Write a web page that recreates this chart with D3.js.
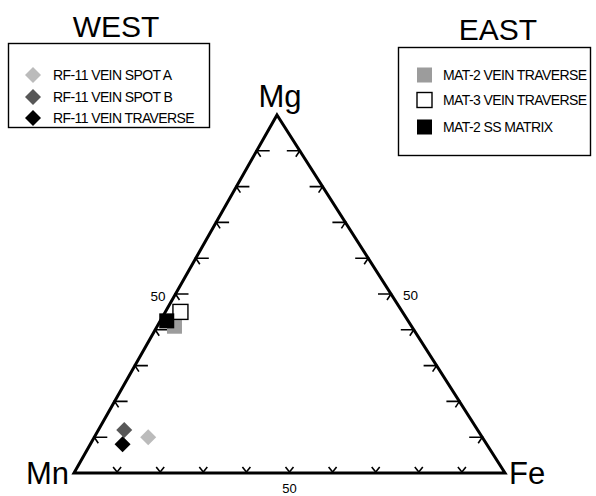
<!DOCTYPE html>
<html>
<head>
<meta charset="utf-8">
<script src="https://cdn.jsdelivr.net/npm/d3@7"></script>
<style>
  html, body { margin: 0; padding: 0; background: #fff; }
  svg { display: block; }
  text { font-family: "Liberation Sans", Arial, sans-serif; fill: #000; }
</style>
</head>
<body>
<svg id="chart" width="596" height="496"></svg>
<script>
// Ternary composition (mol %) of Mg, Fe and Mn
const cornerLabels = ["Mg", "Mn", "Fe"];
const tickValues = [10, 20, 30, 40, 50, 60, 70, 80, 90];
const tickLabelValue = 50;

// West samples (diamonds)
const westNames = ["RF-11 VEIN SPOT A", "RF-11 VEIN SPOT B", "RF-11 VEIN TRAVERSE"];
const westMg = [10, 12, 8];
const westFe = [12.5, 6, 7.5];
const westMn = [77.5, 82, 84.5];

// East samples (squares)
const eastNames = ["MAT-2 VEIN TRAVERSE", "MAT-3 VEIN TRAVERSE", "MAT-2 SS MATRIX"];
const eastMg = [41, 45, 42.5];
const eastFe = [4, 3.5, 1.5];
const eastMn = [55, 51.5, 56];

const westFill = ["#bbbbbb", "#575757", "#000000"];
const eastFill = ["#9c9c9c", "#ffffff", "#000000"];

const svg = d3.select("#chart");

// Base runs Mn (0) -> Fe (100); vertical runs Mg 0 -> 100
const xScale = d3.scaleLinear().domain([0, 100]).range([74, 505]);
const yScale = d3.scaleLinear().domain([0, 100]).range([473, 115]);
const apexShare = 47.1; // where the Mg apex sits along the base, in base %

function project(mg, fe) {
  return [xScale(fe + mg * apexShare / 100), yScale(mg)];
}

// Triangle outline
const pMg = project(100, 0), pMn = project(0, 0), pFe = project(0, 100);
svg.append("path")
  .attr("d", d3.line()([pMg, pFe, pMn]) + "Z")
  .attr("fill", "none")
  .attr("stroke", "#000")
  .attr("stroke-width", 3)
  .attr("stroke-linejoin", "miter");

const tickG = svg.append("g")
  .attr("fill", "none")
  .attr("stroke", "#000")
  .attr("stroke-width", 1.6);

// Mn-Mg edge: arrow ticks pointing left into the edge
tickValues.forEach(v => {
  const [x, y] = project(v, 0);
  tickG.append("path").attr("d", `M${x + 13},${y}L${x},${y}L${x + 4},${y + 6}`);
});
// Mg-Fe edge: arrow ticks pointing right into the edge
tickValues.forEach(v => {
  const [x, y] = project(v, 100 - v);
  tickG.append("path").attr("d", `M${x - 13},${y}L${x},${y}L${x - 4},${y + 6}`);
});
// Mn-Fe base: small v ticks
tickValues.forEach(v => {
  const [x, y] = project(0, v);
  tickG.append("path").attr("d", `M${x - 4},${y - 6}L${x},${y - 1}L${x + 4},${y - 6}`);
});

// "50" labels
const lblL = project(tickLabelValue, 0);
svg.append("text").attr("x", lblL[0] - 10).attr("y", lblL[1] + 7)
  .attr("text-anchor", "end").attr("font-size", 13.5).text(tickLabelValue);
const lblR = project(tickLabelValue, 100 - tickLabelValue);
svg.append("text").attr("x", lblR[0] + 12).attr("y", lblR[1] + 6)
  .attr("font-size", 13.5).text(tickLabelValue);
const lblB = project(0, tickLabelValue);
svg.append("text").attr("x", lblB[0]).attr("y", lblB[1] + 20)
  .attr("text-anchor", "middle").attr("font-size", 13).text(tickLabelValue);

// Corner labels
svg.append("text").attr("x", pMg[0] + 3).attr("y", pMg[1] - 8)
  .attr("text-anchor", "middle").attr("font-size", 31).text(cornerLabels[0]);
svg.append("text").attr("x", pMn[0] - 5).attr("y", pMn[1] + 11)
  .attr("text-anchor", "end").attr("font-size", 31).text(cornerLabels[1]);
svg.append("text").attr("x", pFe[0] + 4).attr("y", pFe[1] + 11)
  .attr("font-size", 31).text(cornerLabels[2]);

// Data marks: east squares
const sq = 15;
eastNames.forEach((name, i) => {
  const [x, y] = project(eastMg[i], eastFe[i]);
  svg.append("rect")
    .attr("x", x - sq / 2).attr("y", y - sq / 2)
    .attr("width", sq).attr("height", sq)
    .attr("fill", eastFill[i])
    .attr("stroke", i === 1 ? "#000" : "none")
    .attr("stroke-width", 1.4);
});

// Data marks: west diamonds
const diamond = d3.symbol().type(d3.symbolSquare).size(128);
westNames.forEach((name, i) => {
  const [x, y] = project(westMg[i], westFe[i]);
  svg.append("path")
    .attr("d", diamond())
    .attr("transform", `translate(${x},${y}) rotate(45)`)
    .attr("fill", westFill[i]);
});

// Titles
svg.append("text").attr("x", 116).attr("y", 37)
  .attr("text-anchor", "middle").attr("font-size", 30).text("WEST");
svg.append("text").attr("x", 498).attr("y", 40)
  .attr("text-anchor", "middle").attr("font-size", 30).text("EAST");

// West legend
svg.append("rect").attr("x", 8.5).attr("y", 43.5).attr("width", 201).attr("height", 84)
  .attr("fill", "none").attr("stroke", "#000").attr("stroke-width", 1.4);
const westRows = [75, 97, 118];
westNames.forEach((name, i) => {
  svg.append("path")
    .attr("d", diamond())
    .attr("transform", `translate(33,${westRows[i]}) rotate(45)`)
    .attr("fill", westFill[i]);
  svg.append("text").attr("x", 53).attr("y", westRows[i] + 5)
    .attr("font-size", 14).attr("letter-spacing", -0.6).text(name);
});

// East legend
svg.append("rect").attr("x", 398.5).attr("y", 47.5).attr("width", 192).attr("height", 108)
  .attr("fill", "none").attr("stroke", "#000").attr("stroke-width", 1.4);
const eastRows = [75, 100, 127];
eastNames.forEach((name, i) => {
  svg.append("rect")
    .attr("x", 417).attr("y", eastRows[i] - 7.5)
    .attr("width", sq).attr("height", sq)
    .attr("fill", eastFill[i])
    .attr("stroke", i === 1 ? "#000" : "none")
    .attr("stroke-width", 1.4);
  svg.append("text").attr("x", 443).attr("y", eastRows[i] + 5)
    .attr("font-size", 14).attr("letter-spacing", -0.6).text(name);
});
</script>
</body>
</html>
